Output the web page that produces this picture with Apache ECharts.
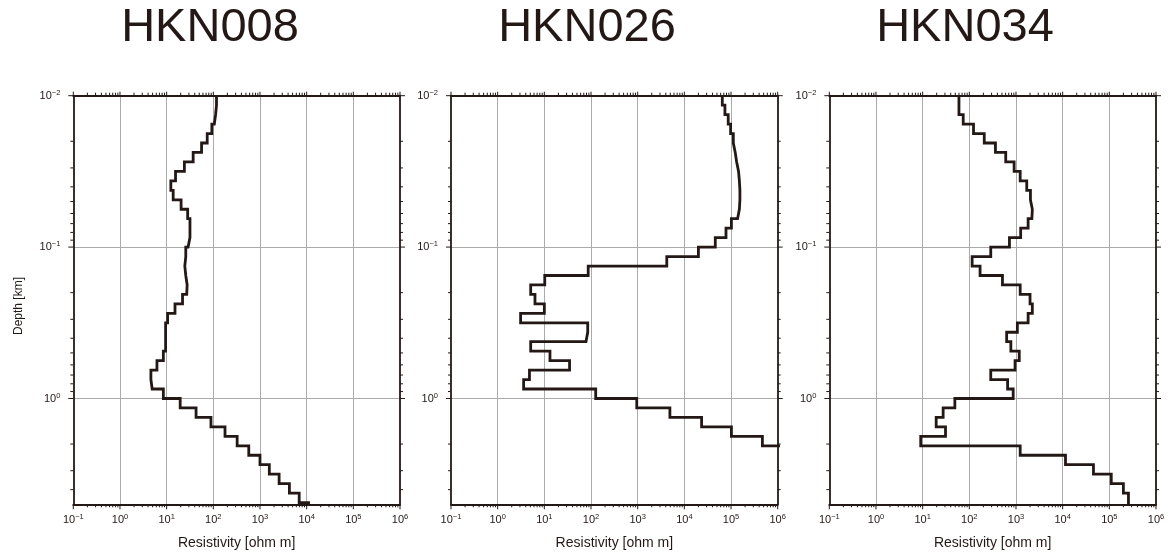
<!DOCTYPE html>
<html>
<head>
<meta charset="utf-8">
<script src="https://cdn.jsdelivr.net/npm/echarts@6/dist/echarts.min.js"></script>
<style>
html,body{margin:0;padding:0;background:#fff;}
#chart{width:1168px;height:557px;}
</style>
</head>
<body>
<div id="chart"></div>
<script>
// ---- DATA ----
const stations = ['HKN008', 'HKN026', 'HKN034'];
// layer boundary depths [km] (read from the step positions)
const depthEdges = [0.01, 0.01155, 0.01334, 0.0154, 0.01778, 0.02054, 0.02371, 0.02738, 0.03162, 0.03652,
  0.04217, 0.0487, 0.05623, 0.06494, 0.07499, 0.0866, 0.1, 0.1155, 0.1334, 0.154, 0.1778, 0.2054,
  0.2371, 0.2738, 0.3162, 0.3652, 0.4217, 0.487, 0.5623, 0.6494, 0.7499, 0.866, 1, 1.155, 1.334,
  1.54, 1.778, 2.054, 2.371, 2.738, 3.162, 3.652, 4.217, 4.87, 5];
// resistivity of each layer [ohm m]
const rhoHKN008 = [117, 112, 105, 93, 74, 56, 37, 24, 15.5, 12.3,
  13.8, 20.4, 28.2, 31.6, 31.6, 28.8, 25.7, 24.5, 25.7, 27.5,
  26.9, 21.9, 15.1, 10.5, 9.5, 9.5, 9.5, 8.5, 6.2, 4.6,
  4.9, 8.5, 19.5, 42.7, 89, 178, 324, 575, 1000, 1585,
  2570, 4266, 6918, 10965];
const rhoHKN026 = [65000, 74000, 87000, 98000, 112000, 123000, 132000, 145000, 151000, 155000,
  155000, 151000, 138000, 102000, 78000, 46000, 20000, 4200, 87, 10.2,
  5.1, 6.3, 10, 3.1, 85, 78, 5.1, 13.2, 34.7, 4.8,
  3.6, 126, 955, 4900, 23400, 102000, 470000, 2000000];
const rhoHKN034 = [60, 60, 74, 123, 209, 363, 603, 912, 1230, 1700,
  2040, 2240, 2190, 1820, 1260, 724, 288, 115, 170, 513,
  1230, 2000, 2240, 1820, 1070, 631, 776, 1175, 955, 288,
  661, 871, 49, 27.5, 19.5, 30.9, 9.1, 1230, 11500, 45700,
  110000, 200000, 257000, 257000];
const rhoSets = [rhoHKN008, rhoHKN026, rhoHKN034];
// axes
const xMin = 0.1, xMax = 1e6, yMin = 0.01, yMax = 5;
const xTickValues = [0.1, 1, 10, 100, 1000, 10000, 100000, 1000000];
const xTickExps = ['−1', '0', '1', '2', '3', '4', '5', '6'];
const yTickValues = [0.01, 0.1, 1];
const yTickExps = ['−2', '−1', '0'];
const tickBase = '10';
const minorMult = [2, 3, 4, 5, 6, 7, 8, 9];
const xLabelName = 'Resistivity [ohm m]';
const yLabelName = 'Depth [km]';

// ---- LAYOUT ----
const INK = '#231815';
const GRIDC = '#ababab';
const FONT = '"Liberation Sans", Arial, sans-serif';
const gridLefts = [73.3, 451, 829.3];
const gridW = 326.7, gridTop = 95.7, gridH = 408.6;
const titleCenters = [210, 587, 965];

function labelFor(values, exps, v) {
  for (let i = 0; i < values.length; i++) {
    if (Math.abs(Math.log10(v) - Math.log10(values[i])) < 1e-6) return '{b|' + tickBase + '}{s|' + exps[i] + '}';
  }
  return '';
}
const richLabel = {
  b: {fontSize: 11, lineHeight: 14, fontFamily: FONT, color: INK},
  s: {fontSize: 7.5, lineHeight: 8, fontFamily: FONT, color: INK, verticalAlign: 'top'}
};

const grids = [], xAxes = [], yAxes = [], series = [];
stations.forEach((name, i) => {
  grids.push({left: gridLefts[i], top: gridTop, width: gridW, height: gridH, containLabel: false});
  const axLine = {show: true, onZero: false, lineStyle: {color: INK, width: 1.8}};
  xAxes.push({
    type: 'log', logBase: 10, gridIndex: i, position: 'bottom', min: xMin, max: xMax,
    axisLine: axLine, axisTick: {show: false},
    splitLine: {show: true, showMinLine: false, showMaxLine: false, lineStyle: {color: GRIDC, width: 1}},
    axisLabel: {show: true, margin: 9, color: INK, fontFamily: FONT, fontSize: 11,
      showMinLabel: true, showMaxLabel: true, rich: richLabel,
      formatter: v => labelFor(xTickValues, xTickExps, v)},
    name: xLabelName, nameLocation: 'middle', nameGap: 32,
    nameTextStyle: {color: INK, fontFamily: FONT, fontSize: 14}
  });
  xAxes.push({
    type: 'log', logBase: 10, gridIndex: i, position: 'top', min: xMin, max: xMax,
    axisLine: axLine, axisTick: {show: false}, splitLine: {show: false}, axisLabel: {show: false}
  });
  yAxes.push({
    type: 'log', logBase: 10, gridIndex: i, position: 'left', min: yMin, max: yMax, inverse: true,
    axisLine: axLine, axisTick: {show: false},
    splitLine: {show: true, showMinLine: false, showMaxLine: false, lineStyle: {color: GRIDC, width: 1}},
    axisLabel: {show: true, margin: 13, color: INK, fontFamily: FONT, fontSize: 11,
      showMinLabel: true, showMaxLabel: true, rich: richLabel,
      formatter: v => labelFor(yTickValues, yTickExps, v)}
  });
  yAxes.push({
    type: 'log', logBase: 10, gridIndex: i, position: 'right', min: yMin, max: yMax, inverse: true,
    axisLine: axLine, axisTick: {show: false}, splitLine: {show: false}, axisLabel: {show: false}
  });

  // step profile
  const rho = rhoSets[i];
  const pts = [];
  rho.forEach((v, k) => { pts.push([v, depthEdges[k]]); pts.push([v, depthEdges[k + 1]]); });
  series.push({
    type: 'line', name: name, xAxisIndex: 2 * i, yAxisIndex: 2 * i, data: pts,
    showSymbol: false, symbol: 'none', clip: true, z: 5, silent: true,
    lineStyle: {color: INK, width: 2.8, join: 'miter', cap: 'butt'}
  });

  // axis ticks (major + minor), outward, drawn at axis positions via scales
  const ticks = [];
  xTickValues.forEach(v => {
    ticks.push([v, yMax, 0, 5]); ticks.push([v, yMin, 1, 4]);
    if (v < xMax) minorMult.forEach(m => { ticks.push([v * m, yMax, 0, 3]); ticks.push([v * m, yMin, 1, 3]); });
  });
  yTickValues.forEach(v => {
    ticks.push([xMin, v, 2, 5]); ticks.push([xMax, v, 3, 5]);
    minorMult.forEach(m => { if (v * m < yMax) { ticks.push([xMin, v * m, 2, 3]); ticks.push([xMax, v * m, 3, 3]); } });
  });
  series.push({
    type: 'custom', xAxisIndex: 2 * i, yAxisIndex: 2 * i, data: ticks, silent: true, z: 4, clip: false,
    renderItem: (params, api) => {
      const p = api.coord([api.value(0), api.value(1)]);
      const dir = api.value(2), len = api.value(3);
      let x2 = p[0], y2 = p[1];
      if (dir === 0) y2 += len; else if (dir === 1) y2 -= len; else if (dir === 2) x2 -= len; else x2 += len;
      return {type: 'line', shape: {x1: p[0], y1: p[1], x2: x2, y2: y2},
        style: {stroke: INK, lineWidth: 1}};
    }
  });
});

const graphics = stations.map((name, i) => ({
  type: 'text', x: titleCenters[i], y: 28,
  style: {text: name, fill: '#231815', font: '47px "Liberation Sans", Arial, sans-serif',
    textAlign: 'center', textVerticalAlign: 'middle'}
}));
graphics.push({
  type: 'text', x: 19, y: 306, rotation: Math.PI / 2,
  style: {text: yLabelName, fill: INK, font: '12px "Liberation Sans", Arial, sans-serif',
    textAlign: 'center', textVerticalAlign: 'middle'}
});

const chart = echarts.init(document.getElementById('chart'), null, {renderer: 'canvas'});
chart.setOption({
  animation: false,
  backgroundColor: '#ffffff',
  grid: grids, xAxis: xAxes, yAxis: yAxes, series: series,
  graphic: graphics
});
</script>
</body>
</html>
